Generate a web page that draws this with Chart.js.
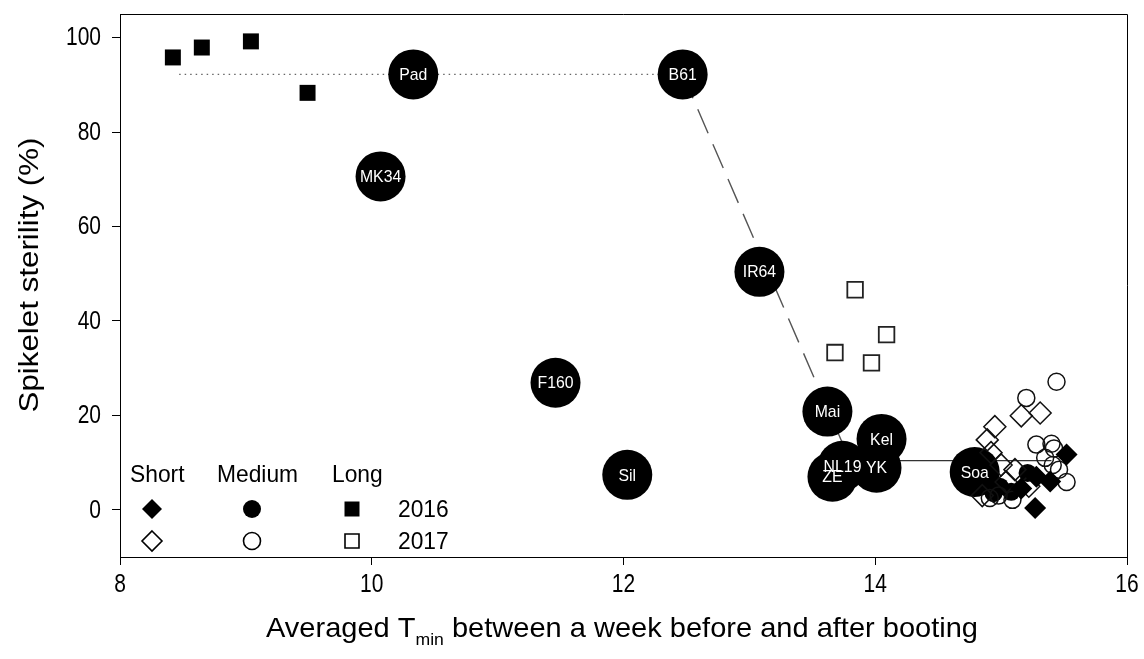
<!DOCTYPE html>
<html>
<head>
<meta charset="utf-8">
<script src="https://cdn.jsdelivr.net/npm/chart.js@4/dist/chart.umd.min.js"></script>
<style>
html,body{margin:0;padding:0;background:#fff;}
#wrap{width:1144px;height:659px;position:relative;}
</style>
</head>
<body>
<div id="wrap"><canvas id="c" width="1144" height="659"></canvas></div>
<script>
// ---- data ----
const xTicks = [8, 10, 12, 14, 16];
const yTicks = [0, 20, 40, 60, 80, 100];

const long2016X = [8.42, 8.65, 9.04, 9.49];
const long2016Y = [95.8, 97.9, 99.2, 88.3];
const long2017X = [13.84, 14.09, 13.68, 13.97];
const long2017Y = [46.6, 37.1, 33.3, 31.1];

const cultivarNames = ['Pad', 'B61', 'MK34', 'IR64', 'F160', 'Sil', 'Mai', 'Kel', 'ZE', 'NL19', 'YK', 'Soa'];
const cultivarX = [10.33, 12.47, 10.07, 13.08, 11.46, 12.03, 13.62, 14.05, 13.66, 13.74, 14.01, 14.79];
const cultivarY = [92.2, 92.2, 70.6, 50.4, 26.9, 7.4, 20.8, 15.0, 7.0, 9.3, 8.9, 8.0];

const short2016X = [15.52, 15.28, 15.39, 15.27, 15.16];
const short2016Y = [11.7, 7.0, 6.0, 0.4, 4.5];
const short2017X = [14.95, 15.16, 15.31, 14.89, 14.92, 15.11, 15.04, 15.22, 14.85, 15.00];
const short2017Y = [17.6, 19.9, 20.5, 14.8, 12.1, 8.5, 5.9, 5.0, 3.0, 9.5];
const medium2016X = [14.99, 15.08, 15.21, 14.94];
const medium2016Y = [4.9, 3.8, 7.8, 3.5];
const medium2017X = [15.44, 15.20, 15.28, 15.40, 15.42, 15.41, 15.46, 15.52, 14.91, 15.09, 14.98, 15.35];
const medium2017Y = [27.1, 23.7, 13.8, 14.0, 13.0, 9.5, 8.5, 5.9, 2.5, 2.1, 3.0, 11.0];

const dottedX = [8.47, 12.47];
const dottedY = [92.2, 92.2];
const dashedX = [12.47, 13.80];
const dashedY = [92.2, 10.4];
const solidX = [13.80, 15.40];
const solidY = [10.4, 10.4];

const legendCols = ['Short', 'Medium', 'Long'];
const legendRows = ['2016', '2017'];

const xTitleA = 'Averaged T';
const xTitleSub = 'min';
const xTitleB = ' between a week before and after booting';
const yTitle = 'Spikelet sterility (%)';

function pts(xs, ys) { return xs.map((x, i) => ({x: x, y: ys[i]})); }

const FONT = '"Liberation Sans", Arial, sans-serif';

// text drawn with a horizontal squeeze factor
function sText(ctx, txt, x, y, sx, align) {
  ctx.save();
  ctx.translate(x, y);
  ctx.scale(sx, 1);
  ctx.textAlign = align;
  ctx.fillText(txt, 0, 0);
  ctx.restore();
}

const labelPlugin = {
  id: 'labels',
  afterDatasetsDraw(chart) {
    const ctx = chart.ctx;
    const idx = chart.data.datasets.findIndex(d => d.label === 'cultivars');
    const meta = chart.getDatasetMeta(idx);
    ctx.save();
    ctx.fillStyle = '#fff';
    ctx.font = '17px ' + FONT;
    ctx.textBaseline = 'middle';
    meta.data.forEach((el, i) => {
      sText(ctx, cultivarNames[i], el.x, el.y + 1, 0.93, 'center');
    });
    ctx.restore();
  }
};

const framePlugin = {
  id: 'frame',
  afterDraw(chart) {
    const ctx = chart.ctx;
    const a = chart.chartArea;
    const xs = chart.scales.x, ys = chart.scales.y;
    ctx.save();
    ctx.strokeStyle = '#000';
    ctx.lineWidth = 1;
    ctx.beginPath();
    ctx.moveTo(a.left, a.top + 0.5);
    ctx.lineTo(a.right + 0.5, a.top + 0.5);
    ctx.lineTo(a.right + 0.5, a.bottom);
    ctx.stroke();

    ctx.fillStyle = '#000';
    // tick labels
    ctx.font = '25px ' + FONT;
    ctx.textBaseline = 'middle';
    yTicks.forEach(v => sText(ctx, String(v), a.left - 19, ys.getPixelForValue(v) + 1, 0.84, 'right'));
    xTicks.forEach(v => sText(ctx, String(v), xs.getPixelForValue(v), 585, 0.84, 'center'));

    // axis titles
    ctx.textBaseline = 'alphabetic';
    const bigF = '28px ' + FONT;
    const subF = '17px ' + FONT;
    ctx.font = bigF;
    const wA = ctx.measureText(xTitleA).width;
    const wB = ctx.measureText(xTitleB).width;
    ctx.font = subF;
    const wS = ctx.measureText(xTitleSub).width;
    const total = wA + wS + wB;
    const targetW = 712;
    const sx = targetW / total;
    const cx = 622;
    ctx.save();
    ctx.translate(cx - targetW / 2, 637);
    ctx.scale(sx, 1);
    ctx.textAlign = 'left';
    ctx.font = bigF;
    ctx.fillText(xTitleA, 0, 0);
    ctx.font = subF;
    ctx.fillText(xTitleSub, wA, 8);
    ctx.font = bigF;
    ctx.fillText(xTitleB, wA + wS, 0);
    ctx.restore();

    ctx.save();
    ctx.font = '27px ' + FONT;
    const wy = ctx.measureText(yTitle).width;
    ctx.translate(38, 275);
    ctx.rotate(-Math.PI / 2);
    ctx.scale(275 / wy, 1);
    ctx.textAlign = 'center';
    ctx.fillText(yTitle, 0, 0);
    ctx.restore();

    // legend
    const L = a.left;
    ctx.font = '24px ' + FONT;
    ctx.textBaseline = 'alphabetic';
    const colX = [10, 97, 212];
    legendCols.forEach((t, i) => sText(ctx, t, L + colX[i], 482, 0.95, 'left'));
    const symX = [32, 132, 232];
    const rowY = [509, 541];
    ctx.textBaseline = 'middle';
    legendRows.forEach((t, r) => {
      const y = rowY[r];
      const filled = r === 0;
      ctx.lineWidth = 1.6;
      ctx.strokeStyle = '#000';
      ctx.fillStyle = '#000';
      let x = L + symX[0];
      ctx.beginPath();
      ctx.moveTo(x, y - 10); ctx.lineTo(x + 10, y); ctx.lineTo(x, y + 10); ctx.lineTo(x - 10, y); ctx.closePath();
      filled ? ctx.fill() : ctx.stroke();
      x = L + symX[1];
      ctx.beginPath();
      ctx.arc(x, y, filled ? 9 : 8.5, 0, Math.PI * 2);
      filled ? ctx.fill() : ctx.stroke();
      x = L + symX[2];
      ctx.beginPath();
      if (filled) { ctx.rect(x - 7.5, y - 7.5, 15, 15); ctx.fill(); }
      else { ctx.rect(x - 7, y - 7, 14, 14); ctx.stroke(); }
      ctx.fillStyle = '#000';
      sText(ctx, t, L + 278, y + 1, 0.95, 'left');
    });
    ctx.restore();
  }
};

const ds = [
  {label: 'dotted', data: pts(dottedX, dottedY), showLine: true, borderColor: '#666', borderWidth: 1.3, borderDash: [1.5, 4], pointRadius: 0, order: 20},
  {label: 'dashed', data: pts(dashedX, dashedY), showLine: true, borderColor: '#555', borderWidth: 1.4, borderDash: [26, 12], pointRadius: 0, order: 19},
  {label: 'solid', data: pts(solidX, solidY), showLine: true, borderColor: '#333', borderWidth: 1.2, pointRadius: 0, order: 18},
  {label: 'cultivars', data: pts(cultivarX, cultivarY), pointStyle: 'circle', pointRadius: 25, backgroundColor: '#000', borderColor: '#000', borderWidth: 0, order: 10},
  {label: 'long2016', data: pts(long2016X, long2016Y), pointStyle: 'rect', pointRadius: 11.3, backgroundColor: '#000', borderColor: '#000', borderWidth: 0, order: 5},
  {label: 'long2017', data: pts(long2017X, long2017Y), pointStyle: 'rect', pointRadius: 11, backgroundColor: 'rgba(0,0,0,0)', borderColor: '#222', borderWidth: 1.8, order: 5},
  {label: 'medium2016', data: pts(medium2016X, medium2016Y), pointStyle: 'circle', pointRadius: 9, backgroundColor: '#000', borderColor: '#000', borderWidth: 0, order: 4},
  {label: 'medium2017', data: pts(medium2017X, medium2017Y), pointStyle: 'circle', pointRadius: 8.5, backgroundColor: 'rgba(0,0,0,0)', borderColor: '#111', borderWidth: 1.5, order: 3},
  {label: 'short2017', data: pts(short2017X, short2017Y), pointStyle: 'rectRot', pointRadius: 11, backgroundColor: 'rgba(0,0,0,0)', borderColor: '#111', borderWidth: 1.5, order: 3},
  {label: 'short2016', data: pts(short2016X, short2016Y), pointStyle: 'rectRot', pointRadius: 11, backgroundColor: '#000', borderColor: '#000', borderWidth: 0, order: 2}
];

new Chart(document.getElementById('c'), {
  type: 'scatter',
  data: {datasets: ds},
  options: {
    responsive: false,
    animation: false,
    events: [],
    layout: {autoPadding: false, padding: {top: 14, right: 17, left: 0, bottom: 0}},
    plugins: {legend: {display: false}, tooltip: {enabled: false}},
    scales: {
      x: {
        type: 'linear', min: 8, max: 16,
        afterBuildTicks(s) { s.ticks = xTicks.map(v => ({value: v})); },
        afterFit(s) { s.height = 102; },
        grid: {drawOnChartArea: false, drawTicks: true, tickLength: 8, color: '#000'},
        border: {display: true, color: '#000', width: 1},
        ticks: {display: false}
      },
      y: {
        type: 'linear', min: -10, max: 105,
        afterBuildTicks(s) { s.ticks = yTicks.map(v => ({value: v})); },
        afterFit(s) { s.width = 120; },
        grid: {drawOnChartArea: false, drawTicks: true, tickLength: 8, color: '#000'},
        border: {display: true, color: '#000', width: 1},
        ticks: {display: false}
      }
    }
  },
  plugins: [labelPlugin, framePlugin]
});
</script>
</body>
</html>
